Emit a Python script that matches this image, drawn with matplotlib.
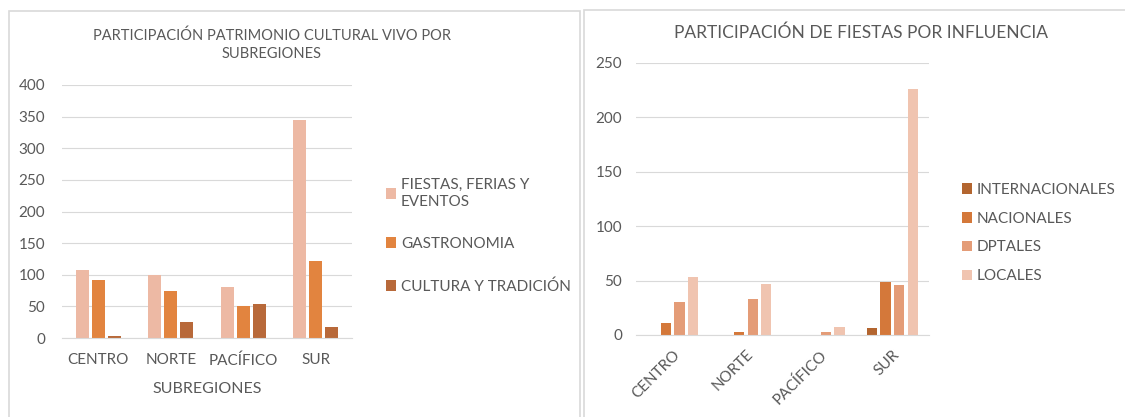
import matplotlib.pyplot as plt
import numpy as np
from matplotlib.patches import Rectangle

# datos: participación por subregión
subregiones = ["CENTRO", "NORTE", "PACÍFICO", "SUR"]

fiestas_ferias = [107, 99, 81, 344]
gastronomia = [92, 75, 50, 121]
cultura_tradicion = [3, 25, 53, 18]

internacionales = [0, 0, 0, 6]
nacionales = [11, 3, 0, 49]
dptales = [30, 33, 3, 46]
locales = [53, 47, 7, 226]

W, H = 1125, 417
TXT = "#595959"
GRID = "#D9D9D9"

plt.rcParams["font.family"] = ["Lato", "DejaVu Sans"]

fig = plt.figure(figsize=(W / 100, H / 100), dpi=100)


def px_axes(x0, y0, x1, y1):
    """Ejes en coordenadas de pixel (origen arriba a la izquierda)."""
    return fig.add_axes([x0 / W, 1 - y1 / H, (x1 - x0) / W, (y1 - y0) / H])


def style(ax, ymax, step, pad):
    ax.set_ylim(0, ymax)
    ax.set_yticks(np.arange(0, ymax + 1, step))
    ax.set_xlim(-0.5, 3.5)
    ax.grid(axis="y", color=GRID, linewidth=0.8)
    ax.set_axisbelow(True)
    for s in ("top", "right", "left"):
        ax.spines[s].set_visible(False)
    ax.spines["bottom"].set_color(GRID)
    ax.tick_params(axis="both", length=0, colors=TXT, labelsize=11)
    ax.tick_params(axis="y", pad=pad)


# marcos de los dos paneles
fig.patches.append(Rectangle((9 / W, -0.05), 571 / W, 1.05 - 11 / H,
                             transform=fig.transFigure, fill=False,
                             edgecolor=GRID, linewidth=1.2))
fig.patches.append(Rectangle((584 / W, -0.05), 560 / W, 1.05 - 10 / H,
                             transform=fig.transFigure, fill=False,
                             edgecolor=GRID, linewidth=1.2))

# panel izquierdo
ax1 = px_axes(62, 85, 352, 338)
x = np.arange(len(subregiones))
bw, step = 0.18, 0.22
series1 = [
    ("FIESTAS, FERIAS Y\nEVENTOS", fiestas_ferias, "#EDB9A4"),
    ("GASTRONOMIA", gastronomia, "#E2843F"),
    ("CULTURA Y TRADICIÓN", cultura_tradicion, "#B8693A"),
]
for i, (lab, vals, col) in enumerate(series1):
    ax1.bar(x + (i - 1) * step, vals, width=bw, color=col, label=lab)
style(ax1, 400, 50, 12)
ax1.set_xticks(x)
ax1.set_xticklabels(subregiones)
ax1.tick_params(axis="x", pad=11)
ax1.set_xlabel("SUBREGIONES", color=TXT, fontsize=11.5, labelpad=10)
fig.text(272 / W, 1 - 45 / H,
         "PARTICIPACIÓN PATRIMONIO CULTURAL VIVO POR\nSUBREGIONES",
         ha="center", va="center", color=TXT, fontsize=10.5, linespacing=1.4)
ax1.legend(loc="center left", bbox_to_anchor=(372 / W, 1 - 236 / H),
           bbox_transform=fig.transFigure, frameon=False, fontsize=11,
           labelcolor=TXT, handlelength=0.7, handleheight=0.7,
           handletextpad=0.3, labelspacing=1.85)

# panel derecho
ax2 = px_axes(636, 63, 929, 335)
bw2, step2 = 0.14, 0.185
series2 = [
    ("INTERNACIONALES", internacionales, "#B3652F"),
    ("NACIONALES", nacionales, "#D4783A"),
    ("DPTALES", dptales, "#E49C77"),
    ("LOCALES", locales, "#F0C4B0"),
]
for i, (lab, vals, col) in enumerate(series2):
    ax2.bar(x + (i - 1.5) * step2, vals, width=bw2, color=col, label=lab)
style(ax2, 250, 50, 10)
ax2.set_xticks(x)
ax2.set_xticklabels(subregiones, rotation=45, ha="right",
                    rotation_mode="anchor")
ax2.tick_params(axis="x", pad=9)
fig.text(861 / W, 1 - 33 / H, "PARTICIPACIÓN DE FIESTAS POR INFLUENCIA",
         ha="center", va="center", color=TXT, fontsize=12.5)
ax2.legend(loc="center left", bbox_to_anchor=(948 / W, 1 - 233 / H),
           bbox_transform=fig.transFigure, frameon=False, fontsize=11,
           labelcolor=TXT, handlelength=0.7, handleheight=0.7,
           handletextpad=0.3, labelspacing=0.97)

fig.savefig("out.png", dpi=100)
